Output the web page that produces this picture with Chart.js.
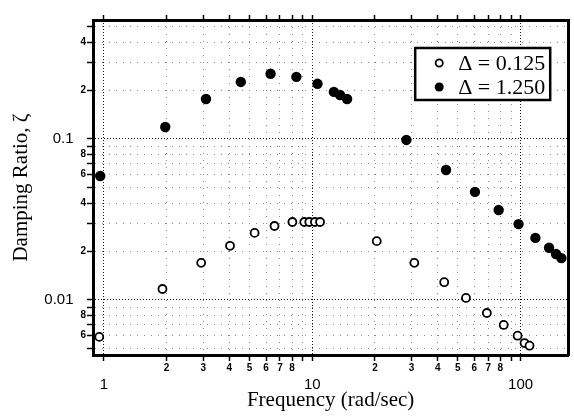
<!DOCTYPE html>
<html><head><meta charset="utf-8">
<script src="https://cdn.jsdelivr.net/npm/chart.js@4"></script>
<style>html,body{margin:0;padding:0;background:#fff}#wrap{width:574px;height:416px}</style>
</head><body><div id="wrap"><canvas id="c" width="574" height="416"></canvas></div>
<script>
const seriesLabels = ['\u0394 = 0.125', '\u0394 = 1.250'];
const freqOpen = [0.95, 1.91, 2.93, 4.03, 5.29, 6.59, 8.03, 9.16, 9.68, 10.3, 10.9, 20.4, 30.9, 43.0, 54.7, 68.9, 83.0, 96.8, 104.5, 110.4];
const dampOpen = [0.0059, 0.0117, 0.0170, 0.0217, 0.0261, 0.0288, 0.0305, 0.0305, 0.0305, 0.0305, 0.0305, 0.0232, 0.0170, 0.0129, 0.0103, 0.0083, 0.0070, 0.0060, 0.0054, 0.0052];
const freqFilled = [0.96, 1.97, 3.09, 4.54, 6.31, 8.39, 10.6, 12.7, 13.6, 14.7, 28.3, 43.9, 60.4, 78.5, 97.8, 117.8, 137, 148, 157];
const dampFilled = [0.0589, 0.1187, 0.177, 0.226, 0.254, 0.243, 0.220, 0.196, 0.1875, 0.177, 0.0986, 0.0642, 0.0469, 0.0362, 0.0296, 0.0243, 0.0211, 0.0193, 0.0182];
const xTickValues = [1,2,3,4,5,6,7,8,9,10,20,30,40,50,60,70,80,90,100];
const xTickLabels = [['','1'],'2','3','4','5','6','7','8','',['','10'],'2','3','4','5','6','7','8','',['','100']];
const yTickValues = [0.005,0.006,0.007,0.008,0.009,0.01,0.02,0.03,0.04,0.05,0.06,0.07,0.08,0.09,0.1,0.2,0.3,0.4,0.5];
const yTickLabels = ['','6','','8','','0.01','2','','4','','6','','8','','0.1','2','','4',''];
const xRange = [0.8864, 169.3];
const yRange = [0.004553, 0.548];

Chart.defaults.font.family = '"Liberation Sans", Arial, sans-serif';
Chart.defaults.color = '#000';

const serif = '"Liberation Serif", "Times New Roman", serif';
const isDecade = v => Math.abs(Math.log10(v) - Math.round(Math.log10(v))) < 1e-6;
const gridColor = ctx => (ctx.tick && isDecade(ctx.tick.value)) ? '#111' : '#888';
const gridDash = ctx => ctx.tick ? (isDecade(ctx.tick.value) ? [1, 2] : [1, 6]) : [];

const legendBox = {
  id: 'legendBox',
  afterDraw(chart) {
    const {ctx, chartArea} = chart;
    const w = 135, h = 52;
    const left = chartArea.right - 18 - w, top = chartArea.top + 28;
    ctx.save();
    ctx.fillStyle = '#fff';
    ctx.fillRect(left, top, w, h);
    ctx.lineWidth = 2.5;
    ctx.strokeStyle = '#000';
    ctx.strokeRect(left, top, w, h);
    ctx.font = '22px ' + serif;
    ctx.textBaseline = 'middle';
    ctx.textAlign = 'left';
    chart.data.datasets.forEach((ds, i) => {
      const cy = top + 15 + i * 24;
      ctx.beginPath();
      ctx.arc(left + 24, cy, i === 0 ? 3.6 : 4.5, 0, Math.PI * 2);
      if (i === 0) { ctx.lineWidth = 1.8; ctx.fillStyle = '#fff'; ctx.fill(); ctx.stroke(); }
      else { ctx.fillStyle = '#000'; ctx.fill(); }
      ctx.fillStyle = '#000';
      ctx.fillText(ds.label, left + 43, cy + 1);
    });
    ctx.restore();
  }
};

new Chart(document.getElementById('c'), {
  type: 'scatter',
  data: {
    datasets: [
      { label: seriesLabels[0], data: freqOpen.map((f, i) => ({x: f, y: dampOpen[i]})),
        pointRadius: 4, pointBorderWidth: 1.8, pointBackgroundColor: '#fff', pointBorderColor: '#000' },
      { label: seriesLabels[1], data: freqFilled.map((f, i) => ({x: f, y: dampFilled[i]})),
        pointRadius: 5.2, pointBorderWidth: 0, pointBackgroundColor: '#000', pointBorderColor: '#000' }
    ]
  },
  options: {
    responsive: false, animation: false, devicePixelRatio: 1,
    layout: { padding: { left: 0, right: 2, top: 0, bottom: 0 } },
    plugins: { legend: { display: false }, tooltip: { enabled: false } },
    scales: {
      x: {
        type: 'logarithmic', position: 'bottom', min: xRange[0], max: xRange[1],
        afterBuildTicks: s => { s.ticks = xTickValues.map(v => ({value: v, major: isDecade(v)})); },
        afterFit: s => { s.height = 61; },
        ticks: {
          autoSkip: false, maxRotation: 0, minRotation: 0, padding: 1,
          callback: (v, i) => xTickLabels[i],
          font: ctx => Array.isArray(xTickLabels[ctx.index]) ? {size: 15, lineHeight: 1.0} : {size: 10, weight: 'bold'}
        },
        grid: { color: gridColor, lineWidth: 1, tickLength: 6, tickColor: '#000', tickWidth: 1.5 },
        border: { color: '#000', width: 3, dash: gridDash },
        title: { display: true, text: 'Frequency (rad/sec)', color: '#000',
          font: { family: serif, size: 21 }, padding: { top: 0, bottom: 3 } }
      },
      xTop: {
        type: 'logarithmic', position: 'top', min: xRange[0], max: xRange[1],
        afterBuildTicks: s => { s.ticks = xTickValues.map(v => ({value: v})); },
        afterFit: s => { s.height = 20; },
        ticks: { display: false },
        grid: { drawOnChartArea: false, drawTicks: true, tickLength: 5, tickColor: '#000', tickWidth: 1.5 },
        border: { color: '#000', width: 3 }
      },
      y: {
        type: 'logarithmic', position: 'left', min: yRange[0], max: yRange[1],
        afterBuildTicks: s => { s.ticks = yTickValues.map(v => ({value: v, major: isDecade(v)})); },
        afterFit: s => { s.width = 93; },
        ticks: {
          autoSkip: false, padding: 1,
          callback: (v, i) => yTickLabels[i].startsWith('0.') ? yTickLabels[i] + '   ' : yTickLabels[i],
          font: ctx => (yTickLabels[ctx.index] || '').startsWith('0.') ? {size: 15} : {size: 10, weight: 'bold'}
        },
        grid: { color: gridColor, lineWidth: 1, tickLength: 6, tickColor: '#000', tickWidth: 1.5 },
        border: { color: '#000', width: 3, dash: gridDash },
        title: { display: true, text: 'Damping Ratio, \u03B6', color: '#000',
          font: { family: serif, size: 21 }, padding: { top: 9, bottom: 4 } }
      },
      yRight: {
        type: 'logarithmic', position: 'right', min: yRange[0], max: yRange[1],
        afterFit: s => { s.width = 2; },
        ticks: { display: false },
        grid: { display: false },
        border: { color: '#000', width: 3 }
      }
    }
  },
  plugins: [legendBox]
});
</script>
</body></html>
